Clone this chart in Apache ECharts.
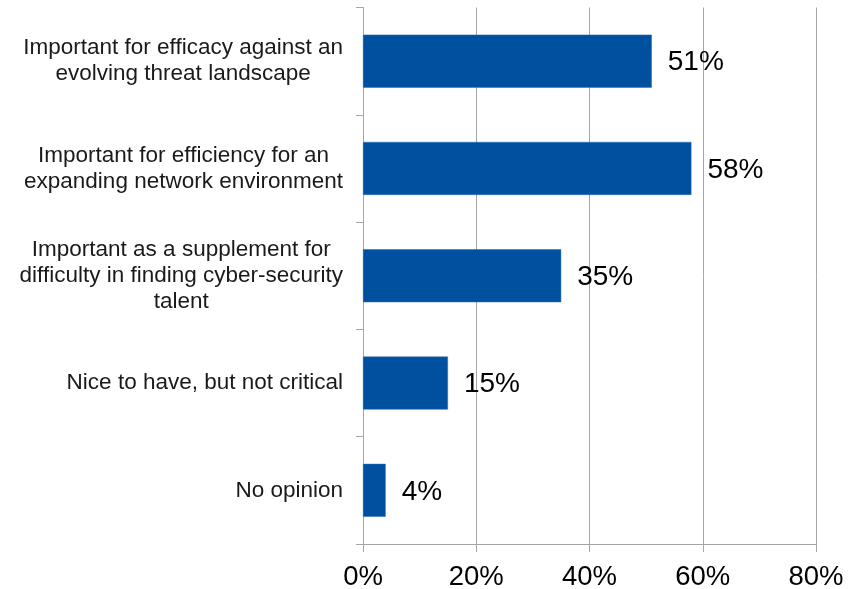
<!DOCTYPE html>
<html>
<head>
<meta charset="utf-8">
<script src="https://cdn.jsdelivr.net/npm/echarts@6/dist/echarts.min.js"></script>
<style>
html,body{margin:0;padding:0;background:#fff;}
#chart{width:861px;height:589px;}
</style>
</head>
<body>
<div id="chart"></div>
<script>
const categories = [
  "Important for efficacy against an\nevolving threat landscape",
  "Important for efficiency for an\nexpanding network environment",
  "Important as a supplement for\ndifficulty in finding cyber-security\ntalent",
  "Nice to have, but not critical",
  "No opinion"
];
const values = [51, 58, 35, 15, 4];
const xTicks = [0, 20, 40, 60, 80];

const chart = echarts.init(document.getElementById('chart'), null, {renderer: 'canvas'});
const gray = '#a6a6a6';
chart.setOption({
  animation: false,
  backgroundColor: '#fff',
  grid: {left: 363, right: 45, top: 7.5, bottom: 45, containLabel: false, outerBoundsMode: 'none'},
  xAxis: {
    type: 'value',
    min: xTicks[0],
    max: xTicks[xTicks.length - 1],
    interval: 20,
    axisLine: {show: true, lineStyle: {color: gray, width: 1}},
    axisTick: {show: true, length: 8, lineStyle: {color: gray}},
    splitLine: {show: true, lineStyle: {color: gray, width: 1}},
    axisLabel: {
      formatter: v => v + '%',
      fontFamily: 'Liberation Sans, Arial, sans-serif',
      fontSize: 27.5,
      color: '#000',
      margin: 19
    }
  },
  yAxis: {
    type: 'category',
    data: categories,
    inverse: true,
    axisLine: {show: true, lineStyle: {color: gray, width: 1}},
    axisTick: {show: true, length: 7, lineStyle: {color: gray}},
    axisLabel: {
      margin: 20,
      align: 'right',
      formatter: v => '{c|' + v + '}',
      rich: {
        c: {
          align: 'center',
          fontFamily: 'Liberation Sans, Arial, sans-serif',
          fontSize: 22.5,
          lineHeight: 26,
          color: '#1a1a1a'
        }
      }
    }
  },
  series: [{
    type: 'bar',
    data: values,
    barWidth: 53,
    itemStyle: {color: '#0050a0', borderColor: '#2b6cb0', borderWidth: 0.5},
    label: {
      show: true,
      position: 'right',
      distance: 16,
      offset: [0, 1.5],
      formatter: p => p.value + '%',
      fontFamily: 'Liberation Sans, Arial, sans-serif',
      fontSize: 28,
      color: '#000'
    }
  }]
});
</script>
</body>
</html>
